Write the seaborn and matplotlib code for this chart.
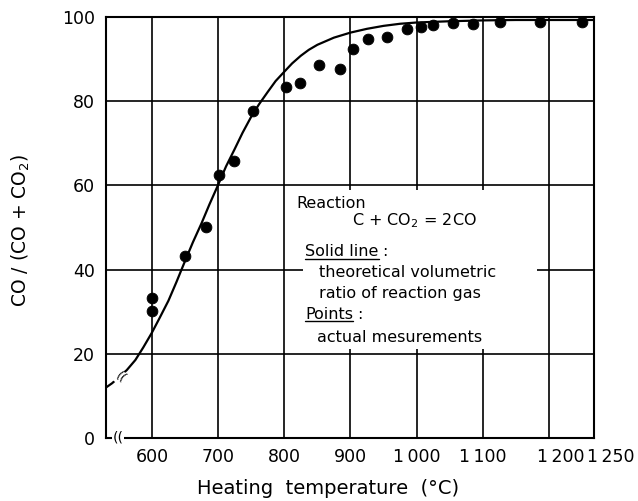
import pandas as pd
import seaborn as sns
import matplotlib.pyplot as plt
import matplotlib.transforms as mtransforms
from matplotlib.patches import Rectangle

# Puntos medidos (temperatura de calentamiento, % CO)
temp_medida = [600, 600, 650, 682, 701, 724, 753, 802, 824, 852, 884, 904,
               926, 955, 985, 1007, 1025, 1055, 1085, 1126, 1186, 1250]
co_medido = [33.2, 30.2, 43.2, 50.1, 62.5, 65.8, 77.7, 83.4, 84.3, 88.6, 87.6, 92.4,
             94.8, 95.2, 97.1, 97.6, 98.1, 98.6, 98.3, 98.8, 98.8, 98.8]

# Curva teórica
temp_teorica = [530, 540, 550, 562, 575, 587, 600, 612, 625, 637, 650, 662, 675, 687,
                700, 712, 725, 737, 750, 762, 775, 787, 800, 812, 825, 837, 850,
                875, 900, 925, 950, 975, 1000, 1050, 1100, 1150, 1268]
co_teorico = [11.9, 13.0, 14.4, 16.1, 18.5, 21.5, 25.0, 28.6, 32.6, 37.0, 42.0, 46.5, 51.0, 55.5,
              60.1, 64.5, 68.6, 72.5, 76.3, 79.3, 82.2, 84.8, 87.0, 89.0, 90.8, 92.2, 93.4,
              95.1, 96.3, 97.2, 97.9, 98.4, 98.7, 99.0, 99.2, 99.3, 99.3]

xticks = [600, 700, 800, 900, 1000, 1100, 1200, 1268]
xtick_labels = ["600", "700", "800", "900", "1\u2009000", "1\u2009100", "1\u2009200", "1\u2009250"]
yticks = [0, 20, 40, 60, 80, 100]

df_medida = pd.DataFrame({"temp": temp_medida, "co": co_medido})
df_teorica = pd.DataFrame({"temp": temp_teorica, "co": co_teorico})

sns.set_style("white")
plt.rcParams["font.family"] = ["DejaVu Sans"]
plt.rcParams["text.color"] = "black"
plt.rcParams["axes.labelcolor"] = "black"

fig = plt.figure(figsize=(6.38, 5.01), dpi=100)
ax = fig.add_axes([0.166, 0.126, 0.765, 0.840])

# Rejilla
for x in xticks[:-1]:
    ax.axvline(x, color="black", lw=1.2, zorder=1)
for y in yticks[1:-1]:
    ax.axhline(y, color="black", lw=1.2, zorder=1)

# Recuadro blanco del texto
ax.add_patch(Rectangle((828, 21), 354, 38, facecolor="white", edgecolor="none", zorder=2))

sns.lineplot(data=df_teorica, x="temp", y="co", color="black", lw=1.6, ax=ax, zorder=3)
sns.scatterplot(data=df_medida, x="temp", y="co", color="black", s=60,
                edgecolor="black", ax=ax, zorder=4, clip_on=False)

ax.set_xlim(530.5, 1268)
ax.set_ylim(0, 100)
ax.set_xticks(xticks)
ax.set_xticklabels(xtick_labels)
ax.set_yticks(yticks)
ax.tick_params(axis="both", length=0, labelsize=12.5, colors="black")
ax.tick_params(axis="x", pad=7)
ax.tick_params(axis="y", pad=8)

# desplazar etiquetas 1 200 y 1 250 a la derecha
xlabs = ax.get_xticklabels()
for lab, dx in [(xlabs[6], 0.12), (xlabs[7], 0.17)]:
    lab.set_transform(lab.get_transform() + mtransforms.ScaledTranslation(dx, 0, fig.dpi_scale_trans))

for s in ax.spines.values():
    s.set_color("black")
    s.set_linewidth(1.5)

ax.set_xlabel("Heating  temperature  (°C)", fontsize=14, color="black")
ax.xaxis.set_label_coords(0.455, -0.098)
ax.set_ylabel("CO / (CO + CO$_2$)", fontsize=13.5, color="black")
ax.yaxis.set_label_coords(-0.152, 0.494)

# Texto explicativo
kw = dict(fontsize=11.5, va="center", ha="left", zorder=5, color="black")
ax.text(818, 55.8, "Reaction", **kw)
ax.text(902, 51.5, "C + CO$_2$ = 2CO", **kw)
t_solid = ax.text(832, 44.2, "Solid line", **kw)
ax.text(853, 39.4, "theoretical volumetric", **kw)
ax.text(853, 34.4, "ratio of reaction gas", **kw)
t_points = ax.text(832, 29.3, "Points", **kw)
ax.text(850, 23.8, "actual mesurements", **kw)

# subrayado y dos puntos según el ancho real del texto
fig.canvas.draw()
renderer = fig.canvas.get_renderer()
for t in [t_solid, t_points]:
    bb = t.get_window_extent(renderer).transformed(ax.transData.inverted())
    ax.plot([bb.x0, bb.x1], [bb.y0 + 0.2, bb.y0 + 0.2], color="black", lw=1, zorder=5)
    ax.text(bb.x1 + 5, t.get_position()[1], ":", **kw)

# Marcas de corte del eje
ax.text(549, 0, "((", fontsize=10, ha="center", va="center", zorder=6, clip_on=False,
        color="black", bbox=dict(facecolor="white", edgecolor="none", pad=0.5))
ax.text(552, 14.4, "((", fontsize=9, ha="center", va="center", zorder=6, rotation=-40,
        color="black", bbox=dict(facecolor="white", edgecolor="none", pad=0.3))

plt.savefig("out.png", dpi=100)
